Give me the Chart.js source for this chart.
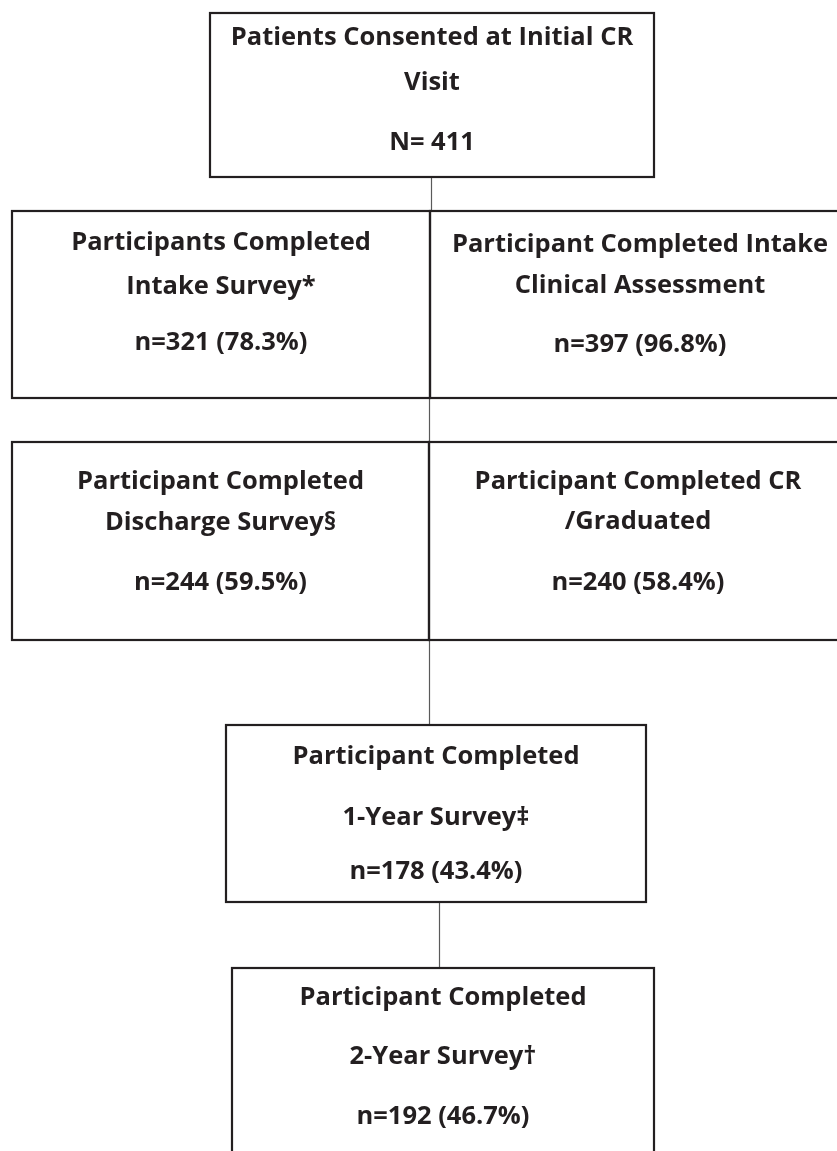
<!DOCTYPE html>
<html>
<head>
<meta charset="utf-8">
<script src="https://cdn.jsdelivr.net/npm/chart.js@4.4.1/dist/chart.umd.min.js"></script>
<style>
  html, body { margin: 0; padding: 0; background: #fff; }
  #flowWrap { width: 837px; height: 1151px; }
</style>
</head>
<body>
<div id="flowWrap"><canvas id="flowChart" width="837" height="1151"></canvas></div>
<script>
// stage data, top to bottom
let stageTitles = [
    ['Patients Consented at Initial CR', 'Visit'],
    ['Participants Completed', 'Intake Survey*'],
    ['Participant Completed Intake', 'Clinical Assessment'],
    ['Participant Completed', 'Discharge Survey\u00a7'],
    ['Participant Completed CR', '/Graduated'],
    ['Participant Completed', '1-Year Survey\u2021'],
    ['Participant Completed', '2-Year Survey\u2020']
];
let stageCounts = [411, 321, 397, 244, 240, 178, 192];
let stagePercents = [null, 78.3, 96.8, 59.5, 58.4, 43.4, 46.7];

// box layout in chart units (x: 0..837, y: 0..1151 top-down)
let boxLayout = [
    { x0: 210, x1: 654, y0: 13, y1: 177, lines: [38, 83, 143] },
    { x0: 12, x1: 430, y0: 211, y1: 398, lines: [243, 287, 343] },
    { x0: 430, x1: 850, y0: 211, y1: 398, lines: [245, 286, 345], cx: 640 },
    { x0: 12, x1: 429, y0: 442, y1: 640, lines: [482, 523, 583] },
    { x0: 429, x1: 850, y0: 442, y1: 640, lines: [482, 522, 583], cx: 638 },
    { x0: 226, x1: 646, y0: 725, y1: 902, lines: [757, 818, 872] },
    { x0: 232, x1: 654, y0: 968, y1: 1180, lines: [998, 1057, 1117] }
];
let connectors = [
    { x: 431, y0: 177, y1: 211 },
    { x: 429, y0: 398, y1: 442 },
    { x: 429, y0: 640, y1: 725 },
    { x: 439, y0: 902, y1: 968 }
];

function countLabel(i) {
    if (stagePercents[i] === null) {
        return 'N= ' + stageCounts[i];
    }
    return 'n=' + stageCounts[i] + ' (' + stagePercents[i].toFixed(1) + '%)';
}

let flowPlugin = {
    id: 'flowBoxes',
    afterDraw: function(chart) {
        let ctx = chart.ctx;
        let sx = chart.scales.x;
        let sy = chart.scales.y;
        ctx.save();

        // connectors
        ctx.strokeStyle = '#5a5a5a';
        ctx.lineWidth = 1.2;
        for (let c of connectors) {
            let px = Math.round(sx.getPixelForValue(c.x)) + 0.5;
            ctx.beginPath();
            ctx.moveTo(px, sy.getPixelForValue(c.y0));
            ctx.lineTo(px, sy.getPixelForValue(c.y1));
            ctx.stroke();
        }

        // boxes
        ctx.strokeStyle = '#231f20';
        ctx.lineWidth = 2.2;
        for (let b of boxLayout) {
            let left = sx.getPixelForValue(b.x0);
            let right = sx.getPixelForValue(b.x1);
            let top = sy.getPixelForValue(b.y0);
            let bottom = sy.getPixelForValue(b.y1);
            ctx.strokeRect(left, top, right - left, bottom - top);
        }

        // texts
        ctx.fillStyle = '#231f20';
        ctx.textAlign = 'center';
        ctx.textBaseline = 'middle';
        ctx.font = 'bold 25.5px "Open Sans"';
        boxLayout.forEach(function(b, i) {
            let cx = sx.getPixelForValue(b.cx !== undefined ? b.cx : (b.x0 + b.x1) / 2);
            let rows = stageTitles[i].concat([countLabel(i)]);
            rows.forEach(function(t, j) {
                ctx.fillText(t, cx, sy.getPixelForValue(b.lines[j]));
            });
        });
        ctx.restore();
    }
};

let ctx = document.getElementById('flowChart').getContext('2d');
let flowChart = new Chart(ctx, {
    type: 'scatter',
    data: {
        datasets: [{
            label: 'stages',
            data: [],
            pointRadius: 0
        }]
    },
    options: {
        responsive: false,
        devicePixelRatio: 1,
        animation: false,
        layout: { padding: 0 },
        plugins: {
            legend: { display: false },
            tooltip: { enabled: false }
        },
        scales: {
            x: { type: 'linear', min: 0, max: 837, display: false },
            y: { type: 'linear', min: 0, max: 1151, reverse: true, display: false }
        }
    },
    plugins: [flowPlugin]
});
</script>
</body>
</html>
